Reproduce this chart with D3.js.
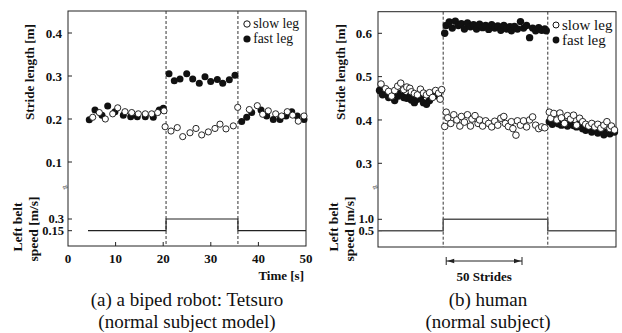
<!DOCTYPE html>
<html><head><meta charset="utf-8">
<script src="https://cdn.jsdelivr.net/npm/d3@7"></script>
<style>body{margin:0;background:#fff}svg{display:block}text{font-family:"Liberation Serif","Times New Roman",serif;fill:#111}</style>
</head><body><svg id="c" width="622" height="333"></svg>
<script>
// ---------- Robot (a) ----------
const robotTicksX = [0,10,20,30,40,50];
const robotTicksY = [0.1,0.2,0.3,0.4];
const robotSpeedTicks = [0.15,0.3];
const robotSpeedTickLabels = ["0.15","0.3"];
const robotSwitch = [20.6,35.7];
const robotSpeedTime = [4.2,20.6,20.6,35.7,35.7,50];
const robotSpeed = [0.15,0.15,0.3,0.3,0.15,0.15];
const robotSlowTime = [5.19,6.58,7.84,9.39,10.44,11.97,13.38,14.77,16.24,17.58,18.84,20.17,
  20.4,21.64,22.96,24.1,25.63,26.89,28.09,29.48,30.88,31.93,33.19,34.73,
  35.65,38.09,39.77,40.9,42.08,43.63,44.89,46.07,47.2,48.38,49.58];
const robotSlowLen = [0.204,0.215,0.200,0.212,0.226,0.217,0.215,0.212,0.212,0.212,0.215,0.219,
  0.182,0.172,0.180,0.159,0.168,0.178,0.163,0.170,0.178,0.188,0.177,0.184,
  0.227,0.222,0.231,0.211,0.219,0.212,0.207,0.217,0.209,0.195,0.207];
const robotFastTime = [4.47,5.67,7.14,8.34,9.87,11.62,13.17,14.56,16.24,17.92,19.18,20.02,
  21.22,22.33,23.53,24.94,26.2,27.58,28.78,29.98,31.37,32.5,33.89,35.08,
  36.49,37.54,38.59,40.55,41.74,43.13,44.54,45.8,47.0,48.17,49.58];
const robotFastLen = [0.198,0.221,0.209,0.230,0.217,0.209,0.205,0.205,0.205,0.204,0.221,0.225,
  0.305,0.289,0.293,0.305,0.293,0.283,0.298,0.287,0.292,0.283,0.291,0.302,
  0.194,0.204,0.215,0.221,0.207,0.199,0.199,0.207,0.217,0.207,0.199];

// ---------- Human (b) ----------
const humanTicksY = [0.3,0.4,0.5,0.6];
const humanSpeedTicks = [0.5,1.0];
const humanSpeedTickLabels = ["0.5","1.0"];
const humanSwitch = [43,112];
const humanSpeedStride = [0,43,43,112,112,157];
const humanSpeed = [0.5,0.5,1.0,1.0,0.5,0.5];
const humanArrow = [45,95];
const humanSlowStride = [2,5,7,9,11,13,15,17,19,21,22,24,26,28,30,32,34,36,38,40,41,42,
  44,45,46,48,50,52,54,55,57,59,61,62,64,66,67,69,71,73,75,77,79,81,83,84,86,88,89,91,92,94,96,98,100,102,104,106,108,110,
  113,114,116,118,120,121,123,125,127,129,131,133,135,137,139,141,143,145,147,149,151,153,154,156];
const humanSlowLen = [0.483,0.472,0.466,0.455,0.468,0.478,0.485,0.470,0.476,0.473,0.465,0.461,0.458,0.471,0.462,0.458,0.463,0.452,0.468,0.462,0.448,0.470,
  0.385,0.418,0.405,0.392,0.412,0.400,0.386,0.408,0.395,0.412,0.386,0.402,0.410,0.392,0.400,0.386,0.398,0.392,0.384,0.397,0.388,0.404,0.408,0.392,0.385,0.396,0.380,0.365,0.398,0.388,0.398,0.384,0.400,0.407,0.388,0.380,0.384,0.382,
  0.418,0.404,0.415,0.400,0.416,0.405,0.392,0.410,0.402,0.411,0.388,0.404,0.396,0.390,0.386,0.392,0.384,0.390,0.381,0.388,0.396,0.380,0.386,0.377];
const humanFastStride = [1,3,5,7,9,11,13,15,17,19,21,22,24,26,28,30,32,34,36,38,40,
  44,45,47,49,51,53,55,57,59,61,63,65,67,69,71,73,75,77,79,81,83,85,87,88,90,92,94,96,98,100,102,104,106,108,110,111,
  113,115,117,119,121,123,125,127,129,131,133,135,137,139,141,143,145,147,149,151,153,155,156];
const humanFastLen = [0.468,0.458,0.462,0.452,0.460,0.445,0.455,0.462,0.452,0.450,0.455,0.446,0.440,0.448,0.452,0.440,0.436,0.445,0.460,0.465,0.455,
  0.600,0.618,0.626,0.612,0.628,0.618,0.622,0.610,0.624,0.615,0.620,0.610,0.621,0.613,0.618,0.609,0.620,0.612,0.617,0.607,0.618,0.610,0.615,0.606,0.616,0.610,0.627,0.612,0.618,0.590,0.612,0.606,0.613,0.607,0.610,0.606,
  0.396,0.390,0.395,0.391,0.388,0.393,0.386,0.390,0.387,0.384,0.392,0.380,0.376,0.383,0.372,0.378,0.370,0.375,0.366,0.372,0.368,0.375,0.372];

const svg = d3.select("#c");

function panel(o){
  const g = svg.append("g");
  const x = d3.scaleLinear().domain(o.xDomain).range([o.left,o.right]);
  const y = d3.scaleLinear().domain(o.yDomain).range(o.yRange);
  const ys = d3.scaleLinear().domain(o.sDomain).range(o.sRange);
  g.append("rect").attr("x",o.left).attr("y",o.top).attr("width",o.right-o.left).attr("height",o.bottom-o.top)
    .attr("fill","none").attr("stroke","#222").attr("stroke-width",1);
  o.switches.forEach(s=>g.append("line").attr("x1",x(s)).attr("x2",x(s)).attr("y1",o.top).attr("y2",o.bottom)
    .attr("stroke","#333").attr("stroke-width",1).attr("stroke-dasharray","3,2"));
  o.yTicks.forEach(t=>{
    g.append("line").attr("x1",o.left).attr("x2",o.left+4).attr("y1",y(t)).attr("y2",y(t)).attr("stroke","#222");
    g.append("text").attr("x",o.left-6).attr("y",y(t)).attr("dy","0.35em").attr("text-anchor","end")
      .attr("font-size",13).attr("font-weight","bold").text(d3.format(".1f")(t));
  });
  o.sTicks.forEach((t,i)=>{
    g.append("line").attr("x1",o.left).attr("x2",o.left+4).attr("y1",ys(t)).attr("y2",ys(t)).attr("stroke","#222");
    g.append("text").attr("x",o.left-4).attr("y",ys(t)).attr("dy","0.33em").attr("text-anchor","end")
      .attr("font-size",12.5).attr("font-weight","bold").text(o.sLabels[i]);
  });
  g.append("text").attr("x",o.left-3).attr("y",187).attr("dy","0.35em").attr("text-anchor","middle")
    .attr("font-size",9).attr("transform",`rotate(-30 ${o.left-3} 187)`).text("≈");
  const pts = o.sX.map((v,i)=>[x(v),ys(o.sY[i])]);
  g.append("path").attr("d",d3.line()(pts)).attr("fill","none").attr("stroke",o.sColor).attr("stroke-width",o.sWidth);
  g.selectAll(".f").data(o.fastX.map((v,i)=>[v,o.fastY[i]])).join("circle")
    .attr("cx",d=>x(d[0])).attr("cy",d=>y(d[1])).attr("r",o.r).attr("fill","#111");
  g.selectAll(".s").data(o.slowX.map((v,i)=>[v,o.slowY[i]])).join("circle")
    .attr("cx",d=>x(d[0])).attr("cy",d=>y(d[1])).attr("r",o.r-0.4).attr("fill","#fff").attr("stroke","#111").attr("stroke-width",0.9);
  g.append("text").attr("transform",`translate(${o.titleX},72) rotate(-90)`).attr("text-anchor","middle").attr("dy","0.35em")
    .attr("font-size",13.2).attr("font-weight","bold").text("Stride length [m]");
  g.append("text").attr("transform",`translate(${o.beltX},227) rotate(-90)`).attr("text-anchor","middle").attr("dy","0.35em")
    .attr("font-size",13.5).attr("font-weight","bold").text("Left belt");
  g.append("text").attr("transform",`translate(${o.beltX+16},229) rotate(-90)`).attr("text-anchor","middle").attr("dy","0.35em")
    .attr("font-size",13.5).attr("font-weight","bold").text("speed [m/s]");
  const L = o.legend;
  g.append("circle").attr("cx",L.x).attr("cy",L.y1).attr("r",L.r).attr("fill","#fff").attr("stroke","#111");
  g.append("circle").attr("cx",L.x).attr("cy",L.y2).attr("r",L.r+0.4).attr("fill","#111");
  g.append("text").attr("x",L.x+L.r+3).attr("y",L.y1).attr("dy","0.32em").attr("font-size",L.fs).text("slow leg");
  g.append("text").attr("x",L.x+L.r+3).attr("y",L.y2).attr("dy","0.32em").attr("font-size",L.fs).text("fast leg");
  o.caption.forEach((c,i)=>g.append("text").attr("x",o.capX).attr("y",306+i*22).attr("text-anchor","middle")
    .attr("font-size",19).text(c));
  return {g,x,y,ys};
}

const A = panel({left:68,right:306,top:11,bottom:246,xDomain:[0,50],yDomain:[0.1,0.4],yRange:[162,33],
  sDomain:[0,0.3],sRange:[242.4,219],switches:robotSwitch,yTicks:robotTicksY,sTicks:robotSpeedTicks,sLabels:robotSpeedTickLabels,
  sX:robotSpeedTime,sY:robotSpeed,sColor:"#222",sWidth:1.2,fastX:robotFastTime,fastY:robotFastLen,slowX:robotSlowTime,slowY:robotSlowLen,r:3.5,
  titleX:29,beltX:17,legend:{x:247,y1:24,y2:39,r:3.2,fs:13.7},caption:["(a) a biped robot: Tetsuro","(normal subject model)"],capX:187});

robotTicksX.forEach(t=>{
  if(t>0&&t<50) A.g.append("line").attr("x1",A.x(t)).attr("x2",A.x(t)).attr("y1",246).attr("y2",242).attr("stroke","#222");
  A.g.append("text").attr("x",A.x(t)).attr("y",263).attr("text-anchor","middle").attr("font-size",13).attr("font-weight","bold").text(t);
});
A.g.append("text").attr("x",304).attr("y",280).attr("text-anchor","end").attr("font-size",13).attr("font-weight","bold").text("Time [s]");

const B = panel({left:378,right:616,top:11.7,bottom:247,xDomain:[0,157],yDomain:[0.3,0.6],yRange:[163.3,33.3],
  sDomain:[0,1.0],sRange:[242,219.3],switches:humanSwitch,yTicks:humanTicksY,sTicks:humanSpeedTicks,sLabels:humanSpeedTickLabels,
  sX:humanSpeedStride,sY:humanSpeed,sColor:"#555",sWidth:1.5,fastX:humanFastStride,fastY:humanFastLen,slowX:humanSlowStride,slowY:humanSlowLen,r:3.7,
  titleX:340,beltX:333,legend:{x:556,y1:25,y2:40,r:3,fs:15},caption:["(b) human","(normal subject)"],capX:488});

const ax1=B.x(humanArrow[0]), ax2=B.x(humanArrow[1]), ay=261;
B.g.append("line").attr("x1",ax1).attr("x2",ax2).attr("y1",ay).attr("y2",ay).attr("stroke","#222").attr("stroke-width",1);
[ax1,ax2].forEach(v=>B.g.append("line").attr("x1",v).attr("x2",v).attr("y1",ay-4).attr("y2",ay+4).attr("stroke","#222"));
B.g.append("path").attr("d",`M${ax1+1},${ay} l7,-2.2 l0,4.4 z M${ax2-1},${ay} l-7,-2.2 l0,4.4 z`).attr("fill","#222");
B.g.append("text").attr("x",(ax1+ax2)/2).attr("y",281).attr("text-anchor","middle").attr("font-size",13).attr("font-weight","bold").text("50 Strides");
</script></body></html>
